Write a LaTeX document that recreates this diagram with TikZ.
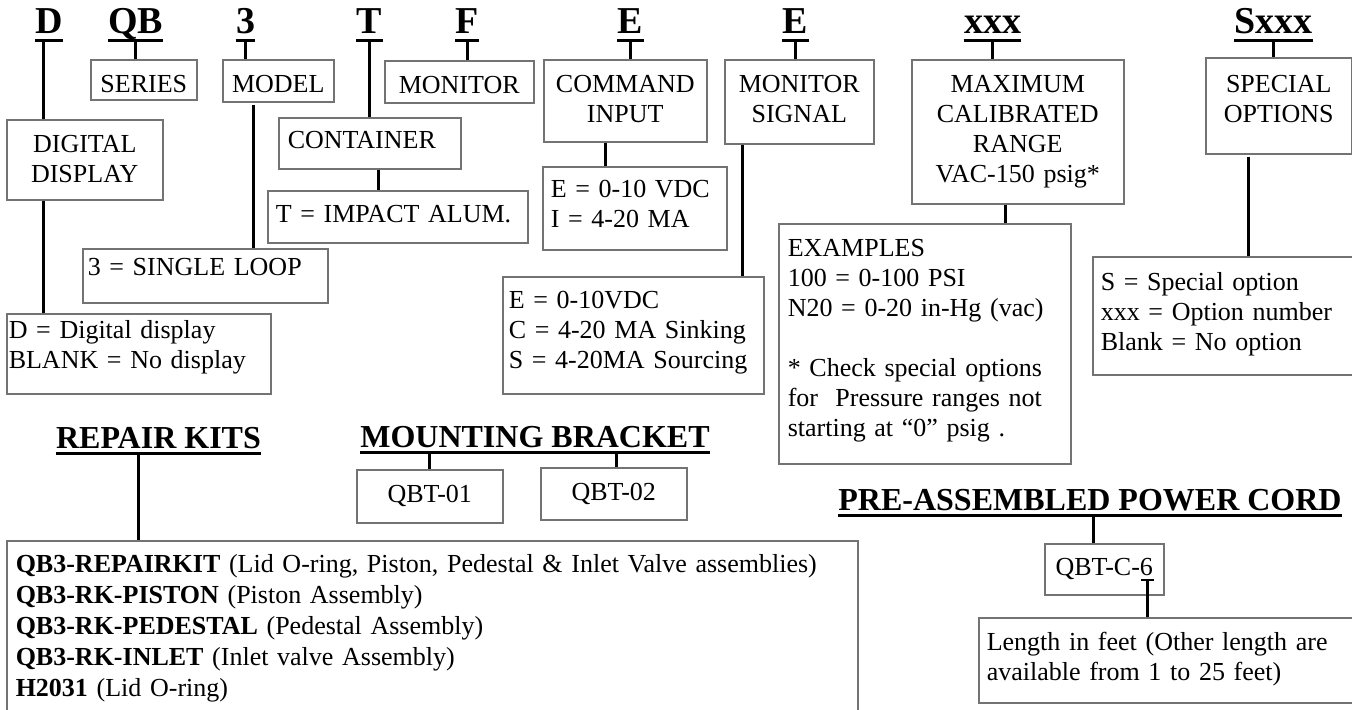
\documentclass[tikz,border=0pt]{standalone}
\usepackage{fontspec}
\setmainfont{Liberation Serif}
\newcommand{\boxfont}{\fontsize{13}{15}\selectfont}
\newcommand{\kitfont}{\fontsize{13}{15.5}\selectfont}
\newcommand{\codefont}{\bfseries\fontsize{19}{19}\selectfont}
\newcommand{\headfont}{\bfseries\fontsize{16}{16}\selectfont}

\begin{document}
\begin{tikzpicture}[x=0.5pt,y=-0.5pt,
    code/.style={font=\codefont,inner sep=0pt,anchor=base,text depth=3.5pt},
    head/.style={font=\headfont,inner sep=0pt,anchor=base,text depth=2.5pt},
    uline/.style={line width=1.8pt},
    conn/.style={line width=1.5pt},
    box/.style={draw=black!55,line width=0.75pt,anchor=north west,inner sep=0pt,font=\boxfont},
    ctr/.style={box,align=center},
    lft/.style={box,align=left}]
\useasboundingbox (0,0) rectangle (1352,709);

% code letters
\node[code] at (49,33) (hD) {D};
\node[code] at (135.5,33) (hQB) {QB};
\node[code] at (245.5,33) (h3) {3};
\node[code] at (369.5,33) (hT) {T};
\node[code] at (467,33) (hF) {F};
\node[code] at (630.5,33) (hE) {E};
\node[code] at (795.5,33) (hEs) {E};
\node[code] at (992.5,33) (hxxx) {xxx};
\node[code] at (1273.5,33) (hS) {Sxxx};

% headings
\node[head] at (158.5,448) (hrep) {REPAIR KITS};
\node[head] at (535,447) (hmount) {MOUNTING BRACKET};
\node[head] at (1090,510) (hcord) {PRE-ASSEMBLED POWER CORD};

\foreach \h in {hD,hQB,h3,hT,hF,hE,hEs,hxxx,hS,hrep,hmount,hcord}
  \draw[uline] (\h.south west) -- (\h.south east);

% name boxes
\node[ctr,text width=78pt,text height=16.5pt,text depth=23.5pt] at (6,119) (digdisp) {DIGITAL\\DISPLAY};
\node[ctr,text width=53pt,text height=16.5pt,text depth=3.5pt] at (90,59) (series) {SERIES};
\node[ctr,text width=55.5pt,text height=16.5pt,text depth=4.5pt] at (222,59) (model) {MODEL};
\node[lft,inner xsep=4.5pt,text width=82pt,text height=15.5pt,text depth=10pt] at (278,117) (container) {CONTAINER};
\node[ctr,text width=74.5pt,text height=16.5pt,text depth=4.5pt] at (384,60) (monitor) {MONITOR};
\node[ctr,text width=81.5pt,text height=16.5pt,text depth=24.5pt] at (543,59) (cmdin) {COMMAND\\INPUT};
\node[ctr,text width=74.5pt,text height=16.5pt,text depth=25.5pt] at (724,59) (monsig) {MONITOR\\SIGNAL};
\node[ctr,text width=106pt,text height=16.5pt,text depth=55.5pt] at (911,59) (maxrange) {MAXIMUM\\CALIBRATED\\RANGE\\VAC-150 psig*};
\node[ctr,text width=73pt,text height=17.5pt,text depth=30.5pt] at (1205,57) (special) {SPECIAL\\OPTIONS};

% value boxes
\node[lft,inner xsep=1pt,text width=130pt,text height=12.5pt,text depth=27.5pt] at (6,313) (dval) {D = Digital display\\BLANK = No display};
\node[lft,inner xsep=2.5pt,text width=117.5pt,text height=13.5pt,text depth=13.5pt] at (82,248) (sval) {3 = SINGLE LOOP};
\node[lft,inner xsep=4pt,text width=122pt,text height=16pt,text depth=10pt] at (267,190) (tval) {T = IMPACT ALUM.};
\node[lft,inner xsep=4pt,text width=84pt,text height=15.5pt,text depth=26pt] at (542,166) (cmdval) {E = 0-10 VDC\\I = 4-20 MA};
\node[lft,inner xsep=3pt,text width=124.5pt,text height=16pt,text depth=42.5pt] at (502,276) (sigval) {E = 0-10VDC\\C = 4-20 MA Sinking\\S = 4-20MA Sourcing};
\node[lft,inner xsep=4.5pt,text width=137pt,text height=16.5pt,text depth=103.5pt] at (778,223) (examples) {EXAMPLES\\100 = 0-100 PSI\\N20 = 0-20 in-Hg (vac)\\[15pt]* Check special options\\for\ \ Pressure ranges not\\starting at “0” psig .};
\node[lft,inner xsep=4pt,text width=122pt,text height=17pt,text depth=42pt] at (1092,256) (optval) {S = Special option\\xxx = Option number\\Blank = No option};

% kits, brackets, cord
\node[lft,font=\kitfont,inner xsep=4.5pt,text width=416.5pt,text height=16pt,text depth=71.5pt] at (6,540) (repair) {\textbf{QB3-REPAIRKIT} (Lid O-ring, Piston, Pedestal \& Inlet Valve assemblies)\\\textbf{QB3-RK-PISTON} (Piston Assembly)\\\textbf{QB3-RK-PEDESTAL} (Pedestal Assembly)\\\textbf{QB3-RK-INLET} (Inlet valve Assembly)\\\textbf{H2031} (Lid O-ring)};
\node[ctr,text width=73pt,text height=16.5pt,text depth=10pt] at (356,469) (qbt01) {QBT-01};
\node[ctr,text width=73pt,text height=16.5pt,text depth=9.5pt] at (540,467) (qbt02) {QBT-02};
\node[ctr,text width=59.5pt,text height=16pt,text depth=9.5pt] at (1044,543) (cord) {QBT-C-6};
\node[lft,inner xsep=4pt,text width=179pt,text height=16.5pt,text depth=26pt] at (978,617) (lenval) {Length in feet (Other length are\\available from 1 to 25 feet)};

% connectors
\draw[conn] ([xshift=-3pt]hD.south) -- ([xshift=-3pt]hD.south |- digdisp.north);
\draw[conn] ([xshift=-20.5pt]digdisp.south) -- ([xshift=-20.5pt]digdisp.south |- dval.north);
\draw[conn] (hQB.south) -- (hQB.south |- series.north);
\draw[conn] (h3.south) -- (h3.south |- model.north);
\draw[conn] ([xshift=-12.25pt,yshift=-1pt]model.south) -- ([xshift=-12.25pt]model.south |- sval.north);
\draw[conn] (hT.south) -- (hT.south |- container.north);
\draw[conn] ([xshift=4.5pt]container.south) -- ([xshift=4.5pt]container.south |- tval.north);
\draw[conn] (hF.south) -- (hF.south |- monitor.north);
\draw[conn] (hE.south) -- (hE.south |- cmdin.north);
\draw[conn] ([xshift=-9.75pt]cmdin.south) -- ([xshift=-9.75pt]cmdin.south |- cmdval.north);
\draw[conn] (hEs.south) -- (hEs.south |- monsig.north);
\draw[conn] ([xshift=-28.25pt]monsig.south) -- ([xshift=-28.25pt]monsig.south |- sigval.north);
\draw[conn] (hxxx.south) -- (hxxx.south |- maxrange.north);
\draw[conn] ([xshift=-6pt]maxrange.south) -- ([xshift=-6pt]maxrange.south |- examples.north);
\draw[conn] (hS.south) -- (hS.south |- special.north);
\draw[conn] ([xshift=-15pt,yshift=-1pt]special.south) -- ([xshift=-15pt]special.south |- optval.north);
\draw[conn] ([xshift=-10.25pt]hrep.south) -- ([xshift=-10.25pt]hrep.south |- repair.north);
\draw[conn] ([xshift=-53pt]hmount.south) -- ([xshift=-53pt]hmount.south |- qbt01.north);
\draw[conn] ([xshift=40.5pt]hmount.south) -- ([xshift=40.5pt]hmount.south |- qbt02.north);
\draw[conn] ([xshift=1.5pt]hcord.south) -- ([xshift=1.5pt]hcord.south |- cord.north);
\draw[line width=1pt] ([xshift=18.4pt,yshift=8pt]cord.south) -- ([xshift=25pt,yshift=8pt]cord.south);
\draw[conn] ([xshift=21.7pt,yshift=8pt]cord.south) -- ([xshift=21.7pt]cord.south |- lenval.north);
\end{tikzpicture}
\end{document}
